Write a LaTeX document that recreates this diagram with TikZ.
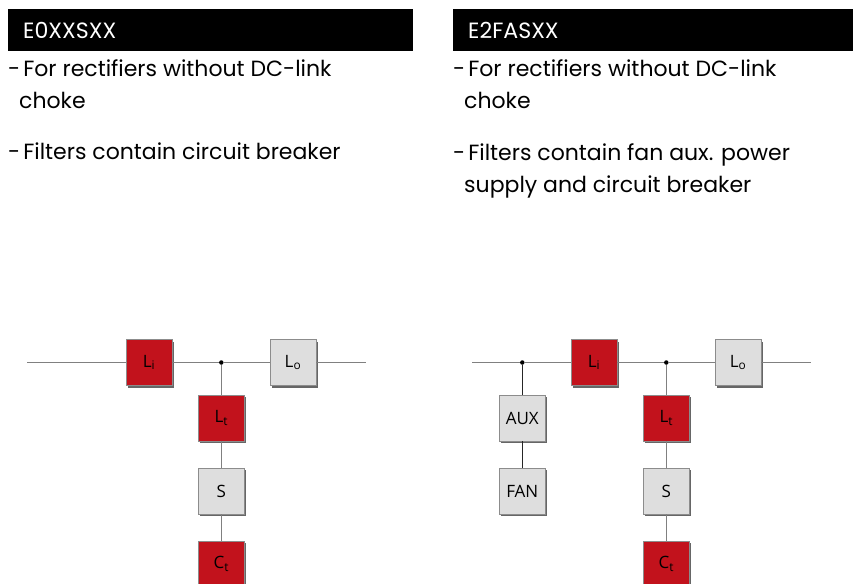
\documentclass[tikz,border=0pt]{standalone}
\usepackage{fontspec}
\setmainfont{Poppins}
\newfontfamily\blockfont{Open Sans}
\usetikzlibrary{positioning,calc,shadows}
\definecolor{filterred}{RGB}{194,18,28}

\begin{document}
\begin{tikzpicture}[x=1pt, y=1pt, align=left, node distance=26.4pt]

%local definitions
\tikzstyle{Block} = [draw=black!45, line width=0.6pt, rectangle, inner sep=0pt, minimum width=46pt, minimum height=46pt, drop shadow={shadow xshift=2pt, shadow yshift=-2pt, fill=black!60, opacity=1}, font=\blockfont\fontsize{17}{20}\selectfont]
\tikzstyle{RedBlock} = [Block, fill=filterred]
\tikzstyle{GreyBlock} = [Block, fill=black!13]
\tikzstyle{Header} = [fill=black, text=white, anchor=north west, inner sep=0pt, minimum height=42pt, text width=405pt, font=\fontsize{22.1}{26}\selectfont]
\tikzstyle{Note} = [anchor=north west, inner sep=0pt, font=\fontsize{22}{32}\selectfont]
\tikzstyle{wire} = [draw=black!50, line width=1.3pt]
\tikzstyle{Junction} = [circle, fill=black, inner sep=0pt, minimum size=4.5pt]

\clip (0,0) rectangle (853,-583);

%left filter, text
	\node [Header] at (8,-9) (headLeft) {\hspace*{15pt}\raisebox{-1.5pt}{E0XXSXX}};
	\node [Note] at (8,-59) (noteLeftA) {-\hspace{3pt}For rectifiers without DC-link\\\hspace*{11pt}choke};
	\node [Note] at (8,-143) (noteLeftB) {-\hspace{3pt}Filters contain circuit breaker};

%right filter, text
	\node [Header] at (453,-9) (headRight) {\hspace*{15pt}\raisebox{-1.5pt}{E2FASXX}};
	\node [Note] at (453,-59) (noteRightA) {-\hspace{3pt}For rectifiers without DC-link\\\hspace*{11pt}choke};
	\node [Note] at (453,-143) (noteRightB) {-\hspace{3pt}Filters contain fan aux. power\\\hspace*{11pt}supply and circuit breaker};

%left filter, blocks
	\node [RedBlock] at (149,-362.5) (inLeft) {L\textsubscript{i}};
	\node [Junction] at (221.3,-362.5) (nodeLeft) {};
	\node [GreyBlock] at (293,-362.5) (outLeft) {L\textsubscript{o}};
	\node [RedBlock, below=32.3pt of nodeLeft.center, anchor=north] (trapLeft) {L\textsubscript{t}};
	\node [GreyBlock, below=of trapLeft] (breakLeft) {S};
	\node [RedBlock, below=of breakLeft] (capLeft) {C\textsubscript{t}};
	\coordinate (startLeft) at (27,-362.5);
	\coordinate (endLeft) at (366,-362.5);

%right filter, blocks
	\coordinate (startRight) at (472,-362.5);
	\node [Junction] at (522.3,-362.5) (nodeAux) {};
	\node [RedBlock] at (594,-362.5) (inRight) {L\textsubscript{i}};
	\node [Junction] at (666.3,-362.5) (nodeRight) {};
	\node [GreyBlock] at (738,-362.5) (outRight) {L\textsubscript{o}};
	\coordinate (endRight) at (811,-362.5);
	\node [RedBlock, below=32.3pt of nodeRight.center, anchor=north] (trapRight) {L\textsubscript{t}};
	\node [GreyBlock, below=of trapRight] (breakRight) {S};
	\node [RedBlock, below=of breakRight] (capRight) {C\textsubscript{t}};
	\node [GreyBlock, below=32.3pt of nodeAux.center, anchor=north] (aux) {AUX};
	\node [GreyBlock, below=of aux] (fan) {FAN};

%connections
	\draw [wire] (startLeft) -- (inLeft);
	\draw [wire] (inLeft) -- (nodeLeft);
	\draw [wire] (nodeLeft) -- (outLeft);
	\draw [wire] (outLeft) -- (endLeft);
	\draw [wire] (nodeLeft) -- (trapLeft);
	\draw [wire] (trapLeft) -- (breakLeft);
	\draw [wire] (breakLeft) -- (capLeft);

	\draw [wire] (startRight) -- (nodeAux);
	\draw [wire] (nodeAux) -- (inRight);
	\draw [wire] (inRight) -- (nodeRight);
	\draw [wire] (nodeRight) -- (outRight);
	\draw [wire] (outRight) -- (endRight);
	\draw [wire] (nodeRight) -- (trapRight);
	\draw [wire] (trapRight) -- (breakRight);
	\draw [wire] (breakRight) -- (capRight);

	%aux branch is darker
	\draw [wire, draw=black!85, line width=0.9pt] (nodeAux) -- (aux);
	\draw [wire, draw=black!85, line width=0.9pt] (aux) -- (fan);

\end{tikzpicture}
\end{document}
